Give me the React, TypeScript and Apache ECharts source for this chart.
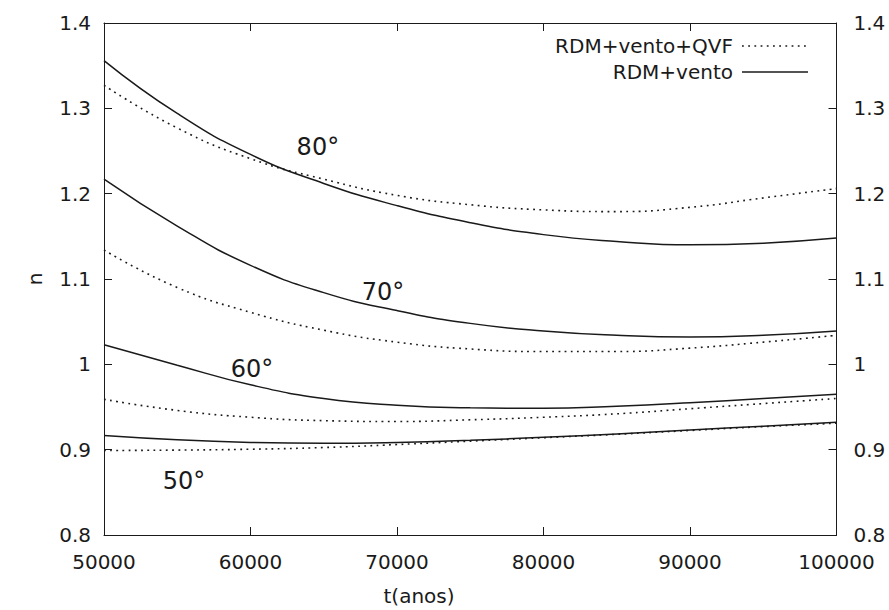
import React, { useEffect, useRef } from "react";
import * as echarts from "echarts";

const tValues = [50000, 55000, 60000, 65000, 70000, 75000, 80000, 85000, 90000, 95000, 100000];

const n80Vento = [1.356, 1.294, 1.246, 1.212, 1.186, 1.166, 1.152, 1.144, 1.14, 1.142, 1.148];
const n80Qvf = [1.327, 1.277, 1.241, 1.217, 1.198, 1.187, 1.181, 1.179, 1.184, 1.195, 1.206];
const n70Vento = [1.217, 1.162, 1.116, 1.084, 1.063, 1.048, 1.039, 1.034, 1.032, 1.034, 1.039];
const n70Qvf = [1.134, 1.09, 1.061, 1.04, 1.026, 1.018, 1.015, 1.015, 1.019, 1.026, 1.034];
const n60Vento = [1.023, 0.999, 0.976, 0.96, 0.952, 0.949, 0.9485, 0.951, 0.955, 0.96, 0.965];
const n60Qvf = [0.959, 0.946, 0.938, 0.934, 0.933, 0.935, 0.938, 0.942, 0.948, 0.954, 0.96];
const n50Vento = [0.9165, 0.9115, 0.9085, 0.9075, 0.9085, 0.911, 0.9145, 0.9185, 0.923, 0.9275, 0.932];
const n50Qvf = [0.899, 0.8995, 0.9005, 0.9025, 0.906, 0.91, 0.914, 0.918, 0.9225, 0.927, 0.931];

const angleLabels = ["80°", "70°", "60°", "50°"];
const angleLabelT = [64600, 69040, 60100, 55460];
const angleLabelN = [1.255, 1.085, 0.995, 0.863];

const legendNames = ["RDM+vento+QVF", "RDM+vento"];

const FONT = "DejaVu Sans";
const INK = "#1a1a1a";
const FS = 20;

export default function App() {
  const ref = useRef<HTMLDivElement>(null);
  useEffect(() => {
    if (!ref.current) return;
    const chart = echarts.init(ref.current, null, { renderer: "svg" });
    const pair = (arr: number[]) => tValues.map((t, i) => [t, arr[i]]);
    const solid = (name: string, arr: number[]) => ({
      type: "line",
      name,
      data: pair(arr),
      smooth: 0.5,
      symbol: "none",
      lineStyle: { color: INK, width: 1.5, type: "solid" },
      z: 3,
    });
    const dotted = (name: string, arr: number[]) => ({
      type: "line",
      name,
      data: pair(arr),
      smooth: 0.5,
      symbol: "none",
      lineStyle: { color: INK, width: 1.6, type: [1.8, 4.4], cap: "butt" },
      z: 3,
    });
    const axisLabel = { color: INK, fontFamily: FONT, fontSize: FS };
    const tick = { show: true, inside: true, length: 8, lineStyle: { color: INK, width: 1 } };
    const line = { show: true, lineStyle: { color: INK, width: 1 } };
    const yFmt = (v: number) => String(Math.round(v * 10) / 10);
    const xFmt = (v: number) => String(Math.round(v));
    chart.setOption({
      animation: false,
      backgroundColor: "#ffffff",
      grid: { left: 104, right: 52.5, top: 23, bottom: 75, containLabel: false },
      xAxis: [
        {
          type: "value",
          min: 50000,
          max: 100000,
          interval: 10000,
          position: "bottom",
          axisLine: line,
          axisTick: tick,
          splitLine: { show: false },
          axisLabel: { ...axisLabel, margin: 17, formatter: xFmt },
        },
        {
          type: "value",
          min: 50000,
          max: 100000,
          interval: 10000,
          position: "top",
          axisLine: line,
          axisTick: tick,
          splitLine: { show: false },
          axisLabel: { show: false },
        },
      ],
      yAxis: [
        {
          type: "value",
          min: 0.8,
          max: 1.4,
          interval: 0.1,
          position: "left",
          axisLine: line,
          axisTick: tick,
          splitLine: { show: false },
          axisLabel: { ...axisLabel, margin: 13, formatter: yFmt },
        },
        {
          type: "value",
          min: 0.8,
          max: 1.4,
          interval: 0.1,
          position: "right",
          axisLine: line,
          axisTick: tick,
          splitLine: { show: false },
          axisLabel: { ...axisLabel, margin: 17, formatter: yFmt },
        },
      ],
      series: [
        solid("80 vento", n80Vento),
        dotted("80 qvf", n80Qvf),
        solid("70 vento", n70Vento),
        dotted("70 qvf", n70Qvf),
        solid("60 vento", n60Vento),
        dotted("60 qvf", n60Qvf),
        solid("50 vento", n50Vento),
        dotted("50 qvf", n50Qvf),
        {
          type: "scatter",
          name: "labels",
          symbolSize: 0,
          silent: true,
          itemStyle: { opacity: 1 },
          data: angleLabels.map((s, i) => ({ value: [angleLabelT[i], angleLabelN[i]], name: s })),
          label: {
            show: true,
            position: "inside",
            formatter: (p: any) => p.name,
            color: INK,
            opacity: 1,
            fontFamily: FONT,
            fontSize: 24,
          },
          z: 5,
        },
      ],
      graphic: [
        {
          type: "text",
          x: 733,
          y: 46,
          style: { text: legendNames[0], fill: INK, font: `${FS}px "${FONT}"`, align: "right", verticalAlign: "middle" },
        },
        {
          type: "line",
          shape: { x1: 742, y1: 46, x2: 808, y2: 46 },
          style: { stroke: INK, lineWidth: 1.6, lineDash: [1.8, 4.4] },
        },
        {
          type: "text",
          x: 733,
          y: 72,
          style: { text: legendNames[1], fill: INK, font: `${FS}px "${FONT}"`, align: "right", verticalAlign: "middle" },
        },
        {
          type: "line",
          shape: { x1: 742, y1: 72, x2: 808, y2: 72 },
          style: { stroke: INK, lineWidth: 1.5 },
        },
        {
          type: "text",
          x: 419,
          y: 596,
          style: { text: "t(anos)", fill: INK, font: `${FS}px "${FONT}"`, align: "center", verticalAlign: "middle" },
        },
        {
          type: "text",
          x: 35,
          y: 279,
          rotation: Math.PI / 2,
          style: { text: "n", fill: INK, font: `${FS}px "${FONT}"`, align: "center", verticalAlign: "middle" },
        },
      ],
    });
    return () => chart.dispose();
  }, []);
  return (
    <div
      ref={ref}
      style={{ position: "fixed", left: 0, top: 0, width: 889, height: 610, background: "#fff" }}
    />
  );
}
